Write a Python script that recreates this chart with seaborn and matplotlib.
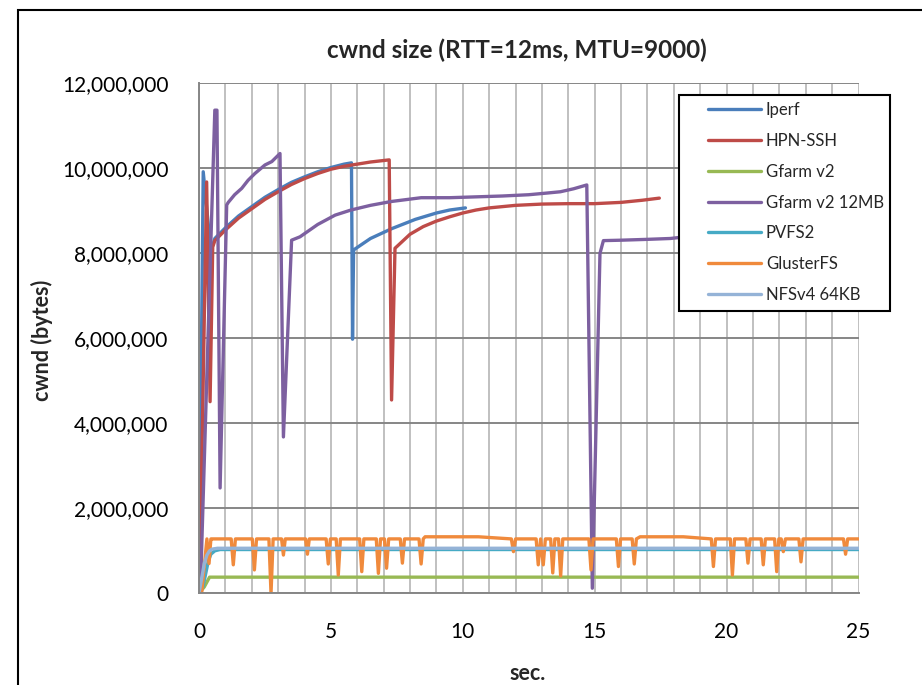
import numpy as np
import pandas as pd
import seaborn as sns
import matplotlib
matplotlib.use("Agg")
import matplotlib.pyplot as plt
from matplotlib.ticker import FuncFormatter, MultipleLocator
from matplotlib.lines import Line2D
from matplotlib.patches import Rectangle

# series values (time in sec, cwnd in millions of bytes)
iperf_t = [0, 0.16, 0.45, 0.6, 1.0, 1.5, 2.0, 2.5, 3.0, 3.5, 4.0, 4.5, 5.0, 5.5, 5.78,
           5.82, 5.86, 6.5, 7.3, 8.2, 9.0, 9.5, 10.1]
iperf_v = [0, 9.92, 8.05, 8.35, 8.6, 8.88, 9.1, 9.32, 9.5, 9.67, 9.8, 9.92, 10.02, 10.1, 10.13,
           5.98, 8.08, 8.35, 8.58, 8.8, 8.95, 9.02, 9.07]

hpn_t = [0.02, 0.29, 0.42, 0.52, 0.6, 1.0, 1.5, 2.0, 2.5, 3.0, 3.5, 4.0, 4.5, 5.0, 5.5, 6.0,
         6.5, 7.21, 7.3, 7.43, 8.0, 8.5, 9.0, 9.5, 10.0, 10.5, 11.0, 11.5, 12.0, 13.0, 14.0,
         15.0, 16.0, 16.8, 17.45]
hpn_v = [0, 9.68, 4.51, 8.15, 8.3, 8.55, 8.83, 9.05, 9.27, 9.45, 9.62, 9.76, 9.88, 9.98, 10.05, 10.1,
         10.15, 10.2, 4.55, 8.12, 8.45, 8.63, 8.76, 8.86, 8.95, 9.02, 9.07, 9.1, 9.13, 9.16, 9.17,
         9.17, 9.2, 9.25, 9.3]

gfarm_t = [0, 0.2, 0.4, 25]
gfarm_v = [0, 0.15, 0.38, 0.38]

gfarm12_t = [0.05, 0.6, 0.68, 0.8, 1.05, 1.11, 1.35, 1.62, 1.86, 2.12, 2.5, 2.76, 3.07, 3.2, 3.51,
             3.83, 4.5, 5.16, 5.76, 6.5, 7.28, 8.42, 9.5, 10.5, 11.5, 12.5, 13.2, 13.7, 14.2, 14.7,
             14.91, 15.2, 15.33, 16.0, 17.0, 17.86, 18.6]
gfarm12_v = [0, 11.37, 11.37, 2.48, 9.14, 9.2, 9.38, 9.53, 9.72, 9.88, 10.08, 10.16, 10.35, 3.68, 8.31,
             8.39, 8.68, 8.9, 9.02, 9.13, 9.22, 9.31, 9.31, 9.33, 9.35, 9.38, 9.42, 9.45, 9.52, 9.61,
             0.12, 8.0, 8.3, 8.31, 8.33, 8.35, 8.4]

pvfs_t = [0, 0.15, 0.25, 0.35, 0.45, 0.6, 0.8, 25]
pvfs_v = [0, 0.15, 0.45, 0.75, 0.92, 1.0, 1.03, 1.03]

gluster_t = [0.0, 0.1, 0.3, 0.38, 0.45, 0.52,
             1.22, 1.30, 1.38, 2.02, 2.10, 2.18, 2.65, 2.73, 2.81, 3.13, 3.20, 3.27,
             4.04, 4.11, 4.18, 4.82, 4.90, 4.98, 5.20, 5.28, 5.36, 6.09, 6.17, 6.25,
             6.72, 6.80, 6.88, 7.03, 7.11, 7.19, 7.63, 7.71, 7.79, 8.34, 8.42, 8.50,
             8.57, 10.59, 11.84, 11.92, 12.00,
             12.78, 12.86, 12.95, 13.05, 13.13, 13.33, 13.41, 13.49, 13.63, 13.71, 13.79,
             14.78, 14.86, 14.94, 15.82, 15.90, 15.98, 16.42, 16.50, 16.58,
             16.72, 18.36, 19.42, 19.50, 19.58, 20.14, 20.22, 20.30, 20.73, 20.81, 20.89,
             21.31, 21.39, 21.47, 21.82, 21.90, 21.98, 22.07, 22.15, 22.23,
             22.74, 22.82, 22.90, 24.43, 24.51, 24.59, 25.0]
gluster_v = [0, 0, 1.28, 0.70, 1.28, 1.28,
             1.28, 0.67, 1.28, 1.28, 0.55, 1.28, 1.28, 0.0, 1.28, 1.28, 0.90, 1.28,
             1.28, 0.92, 1.28, 1.28, 0.69, 1.28, 1.28, 0.43, 1.28, 1.28, 0.51, 1.28,
             1.28, 0.47, 1.28, 1.28, 0.59, 1.28, 1.28, 0.71, 1.28, 1.28, 0.69, 1.28,
             1.33, 1.33, 1.28, 0.98, 1.28,
             1.28, 0.67, 1.28, 0.67, 1.28, 1.28, 0.48, 1.28, 1.28, 0.41, 1.28,
             1.28, 0.55, 1.28, 1.28, 0.63, 1.28, 1.28, 0.69, 1.28,
             1.33, 1.33, 1.28, 0.63, 1.28, 1.28, 0.43, 1.28, 1.28, 0.71, 1.28,
             1.28, 0.67, 1.28, 1.28, 0.51, 1.28, 1.28, 0.98, 1.28,
             1.28, 0.74, 1.28, 1.28, 0.92, 1.28, 1.28]

nfs_t = [0, 0.1, 0.2, 0.3, 0.4, 0.5, 0.7, 1.0, 25]
nfs_v = [0, 0.35, 0.7, 0.9, 1.0, 1.04, 1.06, 1.06, 1.06]

names = ["Iperf", "HPN-SSH", "Gfarm v2", "Gfarm v2 12MB", "PVFS2", "GlusterFS", "NFSv4 64KB"]
colors = ["#4A7EBB", "#BE4B48", "#98B954", "#7D60A0", "#46AAC5", "#F08A3C", "#95B3D7"]
series = [(iperf_t, iperf_v), (hpn_t, hpn_v), (gfarm_t, gfarm_v), (gfarm12_t, gfarm12_v),
          (pvfs_t, pvfs_v), (gluster_t, gluster_v), (nfs_t, nfs_v)]

frames = []
for name, (t, v) in zip(names, series):
    frames.append(pd.DataFrame({"sec": t, "cwnd": np.array(v) * 1e6, "series": name}))
df = pd.concat(frames, ignore_index=True)

sns.set_style("white")
plt.rcParams["font.family"] = ["Lato", "DejaVu Sans"]

W, H = 922, 685
fig = plt.figure(figsize=(W / 100, H / 100), dpi=100)
# plot area in pixels: x 199..858.5, y 83.4..593.3
ax = fig.add_axes([199 / W, (H - 593.3) / H, (858.5 - 199) / W, (593.3 - 83.4) / H])

def ax_x(px):
    return (px - 199) / 659.5

def ax_y(py):
    return (593.3 - py) / 509.9

sns.lineplot(data=df, x="sec", y="cwnd", hue="series", hue_order=names,
             palette=dict(zip(names, colors)), sort=False, estimator=None,
             lw=2.4, ax=ax, legend=False)

ax.set_xlim(0, 25)
ax.set_ylim(0, 12e6)
ax.xaxis.set_major_locator(MultipleLocator(5))
ax.xaxis.set_minor_locator(MultipleLocator(1))
ax.yaxis.set_major_locator(MultipleLocator(2e6))
ax.yaxis.set_major_formatter(FuncFormatter(lambda v, p: f"{v:,.0f}"))
ax.set_axisbelow(True)
ax.grid(which="both", axis="x", color="#c0c0c0", lw=1.4)
ax.grid(which="major", axis="y", color="#868686", lw=1.4)
ax.tick_params(axis="both", which="major", direction="out", length=5, width=1.3,
               color="#868686", labelsize=15, labelcolor="black")
ax.tick_params(axis="x", which="major", pad=16)
ax.tick_params(axis="y", which="major", pad=17)
ax.tick_params(axis="x", which="minor", length=0)
for side in ["top", "right"]:
    ax.spines[side].set_visible(False)
for side in ["left", "bottom"]:
    ax.spines[side].set_color("#868686")
    ax.spines[side].set_linewidth(1.4)
ax.set_xlabel("")
ax.set_ylabel("")

# legend frame (white box, black edge) drawn over the lines
box = Rectangle((ax_x(679.3), ax_y(310.7)), ax_x(890) - ax_x(679.3), ax_y(95) - ax_y(310.7),
                transform=ax.transAxes, facecolor="white", edgecolor="black", lw=1.5,
                clip_on=False, zorder=4)
ax.add_patch(box)

handles = [Line2D([], [], color=c, lw=2.4) for c in colors]
leg = ax.legend(handles, names, loc="upper left", bbox_to_anchor=(ax_x(708), ax_y(102)),
                borderaxespad=0, borderpad=0, fontsize=12, labelspacing=0.89,
                handlelength=3.17, handletextpad=0.3, frameon=False)
leg.set_zorder(5)

fig.text(517 / W, 1 - 50 / H, "cwnd size (RTT=12ms, MTU=9000)", ha="center", va="center",
         fontsize=17.5, fontweight="bold")
fig.text(41.7 / W, 1 - 340 / H, "cwnd (bytes)", ha="center", va="center", rotation=90,
         fontsize=15.5, fontweight="bold")
fig.text(528 / W, 1 - 673 / H, "sec.", ha="center", va="center", fontsize=15.5,
         fontweight="bold")

fig.patches.append(Rectangle((18 / W, -0.05), 1.1, 1 - 10 / H + 0.05, transform=fig.transFigure,
                             fill=False, edgecolor="black", lw=1.5, clip_on=False))

fig.savefig("out.png", dpi=100)
